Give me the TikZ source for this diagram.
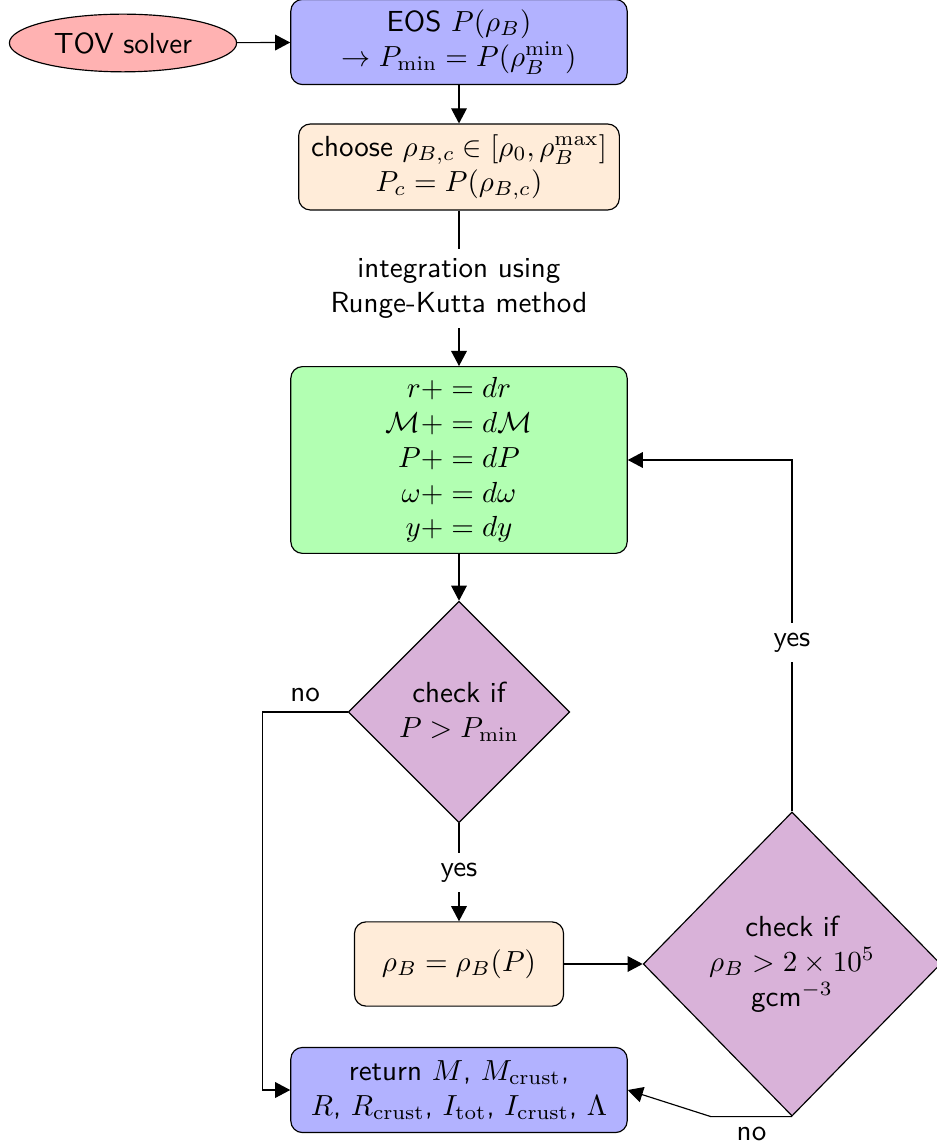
\documentclass[tikz,border=0pt]{standalone}
\usepackage{amsmath}
\usepackage{amssymb}
\usepackage{tikz}
\usetikzlibrary{shapes,arrows.meta}

\begin{document}
\begin{tikzpicture}[x=0.0121cm,y=-0.0121cm,font=\sffamily,
  startstop/.style={draw,ellipse,fill=red!30,minimum width=2.75cm,minimum height=0.64cm},
  process/.style={draw,rectangle,rounded corners,align=center,minimum width=4.07cm,minimum height=1.03cm},
  decision/.style={draw,diamond,aspect=1,fill=violet!30,align=center,inner sep=0pt},
  arrow/.style={-{Triangle[length=5.2pt,width=5.4pt]}}
  ]
  \useasboundingbox (0,0) rectangle (936,1145);
  % nodes
  \node [startstop] (tov) at (123,43) {TOV solver};
  \node [process,fill=blue!30] (eos) at (459,42)
    {EOS $P(\rho_B)$\\ $\rightarrow P_{\rm min}=P(\rho_B^{\rm min})$};
  \node [process,fill=orange!15,minimum width=3.88cm,minimum height=1.04cm] (choose) at (459,167)
    {choose $\rho_{B,c}\in[\rho_0,\rho_B^{\rm max}]$\\ $P_c=P(\rho_{B,c})$};
  \node [process,fill=green!30,minimum height=2.26cm] (step) at (459,460)
    {$r+=dr$\\ $\mathcal{M}+=d\mathcal{M}$\\ $P+=dP$\\
     $\omega+=d\omega$\\ $y+=dy$};
  \node [decision,minimum width=2.68cm,minimum height=2.68cm] (check1) at (459,712)
    {check if\\ $P>P_{\rm min}$};
  \node [process,fill=orange!15,minimum width=2.53cm,minimum height=1.02cm] (rho) at (459,964)
    {$\rho_B=\rho_B(P)$};
  \node [decision,minimum width=3.6cm,minimum height=3.68cm] (check2) at (792,964)
    {check if\\ $\rho_B>2\times10^5$\\ gcm$^{-3}$};
  \node [process,fill=blue!30] (ret) at (459,1090)
    {return $M$, $M_{\rm crust}$,\\ $R$, $R_{\rm crust}$, $I_{\rm tot}$, $I_{\rm crust}$, $\Lambda$};
  % connectors
  \draw [arrow] (tov) -- (eos);
  \draw [arrow] (eos) -- (choose);
  \draw [arrow] (choose) -- node[fill=white,align=center] {integration using\\ Runge-Kutta method} (step);
  \draw [arrow] (step) -- (check1);
  \draw [arrow] (check1) -- node[fill=white] {yes} (rho);
  \draw [arrow] (check1.west) -- node[above] {no} ++(-85,0) |- (ret.west);
  \draw [arrow] (rho) -- (check2);
  \draw [arrow] (check2.north) |- node[pos=0.24,fill=white] {yes} (step.east);
  \draw [arrow] (check2.south) -- node[below] {no} ++(-81,0) -- (ret.east);
\end{tikzpicture}
\end{document}
